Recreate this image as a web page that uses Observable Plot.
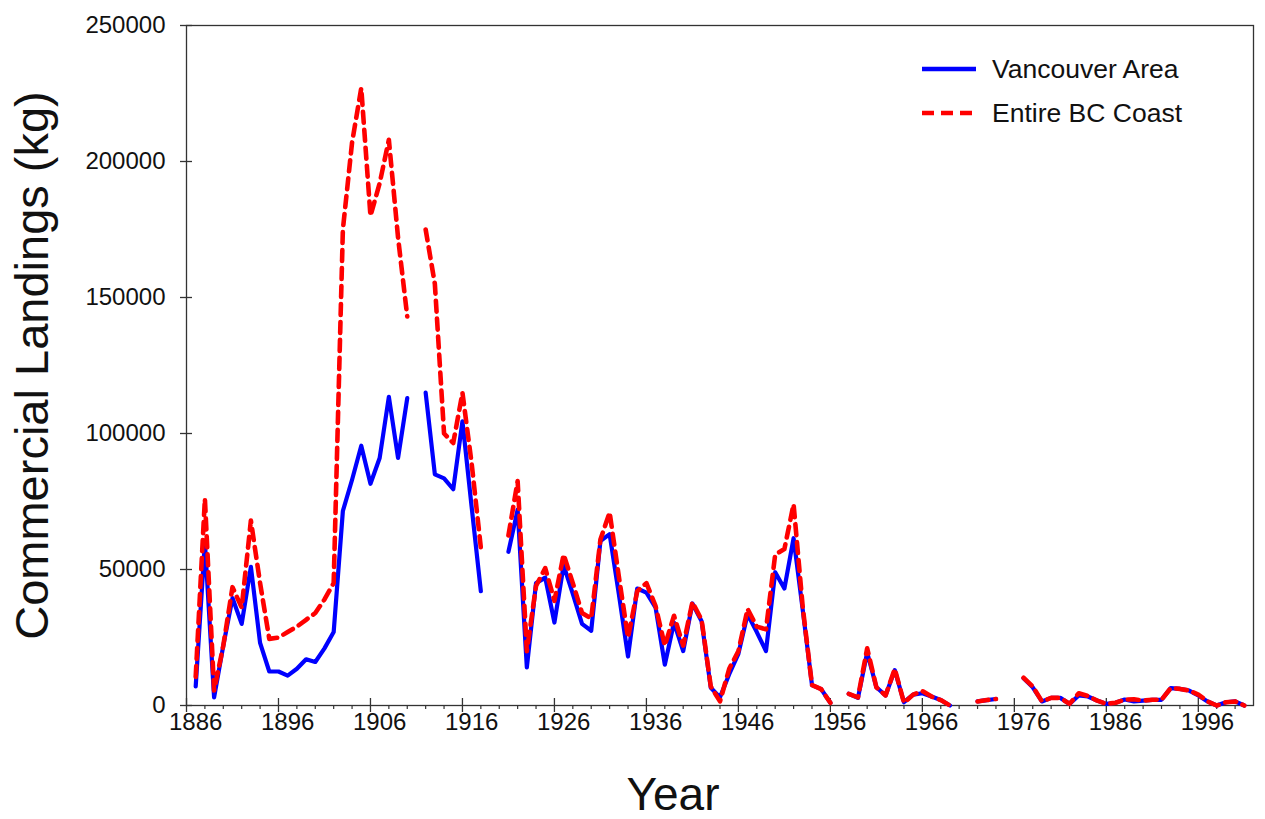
<!DOCTYPE html>
<html>
<head>
<meta charset="utf-8">
<script src="https://cdn.jsdelivr.net/npm/d3@7"></script>
<script src="https://cdn.jsdelivr.net/npm/@observablehq/plot@0.6"></script>
<style>
  html, body { margin: 0; padding: 0; background: #fff; }
  #wrap { position: relative; width: 1265px; height: 819px; font-family: "Liberation Sans", Arial, sans-serif; }
  #legend { position: absolute; left: 920px; top: 47px; color: #111; font-size: 26.5px; }
  .item { display: flex; align-items: center; height: 44px; }
  .item svg { width: 58px; height: 10px; margin-right: 14px; }
</style>
</head>
<body>
<div id="wrap">
  <div id="chart"></div>
  <div id="legend"></div>
</div>
<script>
// ---- data (kg) ----
const years = d3.range(1886, 2001);
const vancouver = [
  7000, 60000, 3000, 22000, 39500, 30000, 51000, 23000, 12500, 12500,   // 1886-1895
  11000, 13500, 17000, 16000, 21000, 27000, 71500, 83000, 95500, 81500, // 1896-1905
  91000, 113500, 91000, 113000, null, 115000, 85000, 83500, 79500, 104500, // 1906-1915
  73000, 42000, null, null, 56500, 72000, 14000, 45000, 47000, 30500,   // 1916-1925
  51500, 41000, 30000, 27500, 60500, 63000, 41000, 18000, 43000, 41500, // 1926-1935
  36000, 15000, 30500, 20000, 37500, 31000, 6500, 3000, 11500, 19000,   // 1936-1945
  33500, 27000, 20000, 49000, 43000, 61500, 35000, 7500, 6000, 1000,    // 1946-1955
  null, 4300, 2800, 19500, 6700, 3700, 13000, 1200, 4000, 4500,         // 1956-1965
  3300, 2000, 0, null, null, 1500, 2000, 2400, null, null,              // 1966-1975
  10000, 6700, 1500, 2800, 2800, 600, 3700, 3300, 1800, 600,            // 1976-1985
  1000, 2200, 1500, 1800, 2100, 2100, 6400, 6100, 5500, 3700,           // 1986-1995
  1500, 0, 1200, 1500, 0                                                // 1996-2000
];
const bcCoast = [
  10500, 76000, 5500, 22000, 43500, 36000, 68000, 45000, 24500, 25000,
  27000, 29000, 31500, 34000, 39000, 45000, 175000, 207000, 227000, 180000,
  192000, 208000, 172000, 143000, null, 175000, 155000, 100000, 96500, 115000,
  89000, 58000, null, null, 62500, 82500, 20000, 44000, 50500, 38500,
  55500, 45000, 34000, 32000, 61000, 71000, 47500, 25000, 42000, 45000,
  36500, 22000, 33000, 22000, 38000, 31500, 7000, 1500, 13500, 20000,
  35500, 29000, 28000, 55500, 57500, 74000, 36000, 7500, 6000, 1000,
  null, 4300, 3000, 21000, 6700, 3700, 13500, 1000, 4000, 5300,
  3300, 2000, 0, null, null, 1500, 2000, 2400, null, null,
  10200, 7000, 1500, 2800, 2800, 600, 4500, 3500, 1800, 600,
  1000, 2200, 2300, 1800, 2100, 2100, 6400, 6100, 5500, 4000,
  1500, 0, 1200, 1500, 0
];
const xLabelYears = d3.range(1886, 2000, 10);   // 1886 ... 1996
const xMajorTicks = d3.range(1885, 2000, 10);   // tick marks
const xMinorTicks = d3.range(1885, 2001, 2).filter(y => (y - 1885) % 10 !== 0);
const yTicks = [0, 50000, 100000, 150000, 200000, 250000];
const seriesNames = ["Vancouver Area", "Entire BC Coast"];
const seriesColors = ["#0000ff", "#ff0000"];

const rows = years.map((y, i) => ({year: y, van: vancouver[i], bc: bcCoast[i]}));

const chart = Plot.plot({
  width: 1265,
  height: 819,
  marginLeft: 186,
  marginRight: 12,
  marginTop: 25,
  marginBottom: 114,
  style: {fontFamily: "'Liberation Sans', Arial, sans-serif", color: "#111", background: "white", overflow: "visible"},
  x: {domain: [1885, 2001]},
  y: {domain: [0, 250000]},
  marks: [
    Plot.frame({stroke: "#333", strokeWidth: 1.3}),
    Plot.axisX(xMajorTicks, {tickSize: 14, dy: -7, tickFormat: () => "", label: null, stroke: "#333", strokeWidth: 1.3}),
    Plot.axisX(xMinorTicks, {tickSize: 4, tickFormat: () => "", label: null, stroke: "#333", strokeWidth: 1.2}),
    Plot.axisX(xLabelYears, {tickSize: 0, tickPadding: 7, tickFormat: d => String(d), label: null, fontSize: 24}),
    Plot.axisY(yTicks, {tickSize: 12, dx: 6, tickFormat: () => "", label: null, stroke: "#333", strokeWidth: 1.3}),
    Plot.axisY(yTicks, {tickSize: 0, tickPadding: 21, tickFormat: d => String(d), label: null, fontSize: 24}),
    Plot.line(rows, {x: "year", y: "van", stroke: seriesColors[0], strokeWidth: 4.2}),
    Plot.line(rows, {x: "year", y: "bc", stroke: seriesColors[1], strokeWidth: 4.6, strokeDasharray: "11,7"}),
    Plot.text(["Commercial Landings (kg)"], {frameAnchor: "left", rotate: -90, dx: -154, fontSize: 47, textAnchor: "middle", lineAnchor: "middle", fill: "#111"}),
    Plot.text(["Year"], {frameAnchor: "bottom", dx: -47, dy: 90, fontSize: 46, textAnchor: "middle", lineAnchor: "middle", fill: "#111"})
  ]
});
document.getElementById("chart").appendChild(chart);

// legend
const legend = document.getElementById("legend");
seriesNames.forEach((name, i) => {
  const div = document.createElement("div");
  div.className = "item";
  const dash = i === 1 ? ' stroke-dasharray="12,7"' : '';
  div.innerHTML = `<svg viewBox="0 0 58 10"><line x1="2" x2="56" y1="5" y2="5" stroke="${seriesColors[i]}" stroke-width="4.5"${dash}/></svg><span>${name}</span>`;
  legend.appendChild(div);
});
</script>
</body>
</html>
